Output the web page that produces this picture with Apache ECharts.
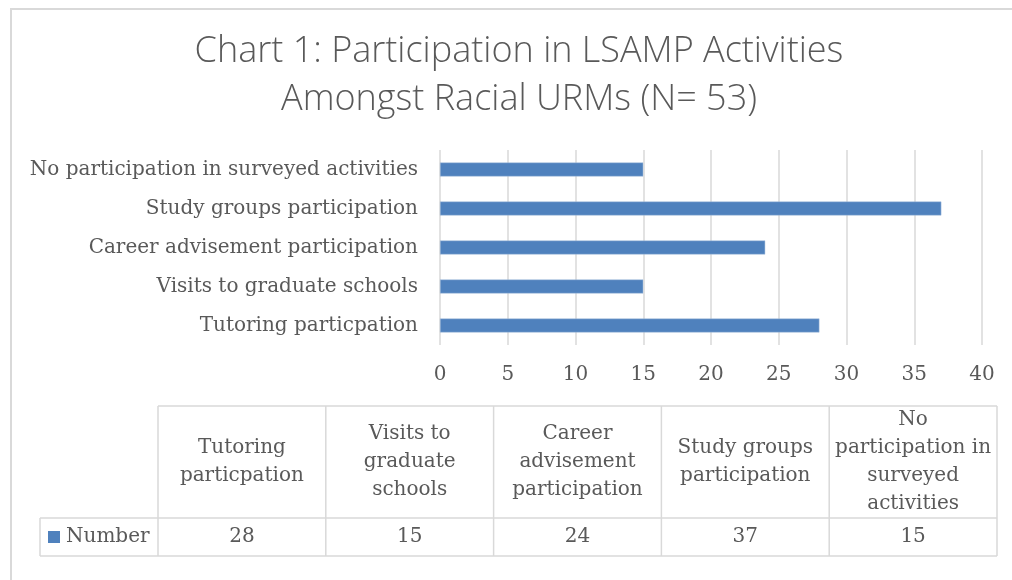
<!DOCTYPE html>
<html>
<head>
<meta charset="utf-8">
<script src="https://cdn.jsdelivr.net/npm/echarts@6/dist/echarts.min.js"></script>
<style>
  html, body { margin: 0; padding: 0; background: #fff; }
  #chart { width: 1012px; height: 580px; }
</style>
</head>
<body>
<div id="chart"></div>
<script>
const titleLines = ['Chart 1: Participation in LSAMP Activities', 'Amongst Racial URMs (N= 53)'];
const categories = [
  'Tutoring particpation',
  'Visits to graduate schools',
  'Career advisement participation',
  'Study groups participation',
  'No participation in surveyed activities',
];
// header cells of the data table, wrapped as in the source
const tableHeaders = [
  'Tutoring\nparticpation',
  'Visits to\ngraduate\nschools',
  'Career\nadvisement\nparticipation',
  'Study groups\nparticipation',
  'No\nparticipation in\nsurveyed\nactivities',
];
const seriesName = 'Number';
const values = [28, 15, 24, 37, 15];

const serif = '"DejaVu Serif", "Liberation Serif", serif';
const fontSize = 20;
const textColor = '#595959';
const lineColor = '#D9D9D9';
const barColor = '#4F81BD';

// table layout
const tableTop = 406;
const headerBottom = 518;
const tableBottom = 556;
const legendLeft = 40;
const colLeft = 158;
const colWidth = 167.8;

const hLine = (x1, x2, y) => ({
  type: 'line',
  shape: { x1, y1: y, x2, y2: y },
  style: { stroke: lineColor, lineWidth: 1.5 },
});
const vLine = (x, y1, y2) => ({
  type: 'line',
  shape: { x1: x, y1, x2: x, y2 },
  style: { stroke: lineColor, lineWidth: 1.5 },
});

const tableRight = colLeft + colWidth * values.length;
const graphics = [
  // outer frame
  { type: 'line', shape: { x1: 10, y1: 9, x2: 1012, y2: 9 }, style: { stroke: lineColor, lineWidth: 2 } },
  { type: 'line', shape: { x1: 11, y1: 9, x2: 11, y2: 580 }, style: { stroke: lineColor, lineWidth: 2 } },
  {
    type: 'text',
    x: 519,
    y: 76,
    style: {
      text: titleLines.join('\n'),
      font: '300 36px "Open Sans", sans-serif',
      fill: textColor,
      align: 'center',
      verticalAlign: 'middle',
      lineHeight: 48,
    },
  },
  hLine(colLeft, tableRight, tableTop),
  hLine(legendLeft, tableRight, headerBottom),
  hLine(legendLeft, tableRight, tableBottom),
  vLine(legendLeft, headerBottom, tableBottom),
  {
    type: 'rect',
    shape: { x: 48, y: 531, width: 12, height: 12 },
    style: { fill: barColor },
  },
  {
    type: 'text',
    x: 66,
    y: (headerBottom + tableBottom) / 2,
    style: { text: seriesName, font: `${fontSize}px ${serif}`, fill: textColor, verticalAlign: 'middle' },
  },
];

for (let i = 0; i <= values.length; i++) {
  graphics.push(vLine(colLeft + colWidth * i, tableTop, tableBottom));
}
tableHeaders.forEach((label, i) => {
  const cx = colLeft + colWidth * (i + 0.5);
  graphics.push({
    type: 'text',
    x: cx,
    y: (tableTop + headerBottom) / 2,
    style: {
      text: label,
      font: `${fontSize}px ${serif}`,
      fill: textColor,
      align: 'center',
      verticalAlign: 'middle',
      lineHeight: 28,
    },
  });
  graphics.push({
    type: 'text',
    x: cx,
    y: (headerBottom + tableBottom) / 2,
    style: {
      text: String(values[i]),
      font: `${fontSize}px ${serif}`,
      fill: textColor,
      align: 'center',
      verticalAlign: 'middle',
    },
  });
});

const chart = echarts.init(document.getElementById('chart'));
chart.setOption({
  backgroundColor: '#fff',
  animation: false,
  grid: { left: 440, right: 30, top: 150, height: 195, containLabel: false },
  xAxis: {
    type: 'value',
    min: 0,
    max: 40,
    interval: 5,
    axisLine: { show: false },
    axisTick: { show: false },
    axisLabel: { color: textColor, fontFamily: serif, fontSize: fontSize, margin: 20 },
    splitLine: { lineStyle: { color: lineColor, width: 1.5 } },
  },
  yAxis: {
    type: 'category',
    data: categories,
    axisLine: { show: false },
    axisTick: { show: false },
    axisLabel: { color: textColor, fontFamily: serif, fontSize: fontSize, margin: 22 },
  },
  series: [
    {
      name: seriesName,
      type: 'bar',
      data: values,
      barWidth: 14,
      itemStyle: { color: barColor, borderColor: '#A9C0DF', borderWidth: 0.5 },
    },
  ],
  graphic: graphics,
});
</script>
</body>
</html>
